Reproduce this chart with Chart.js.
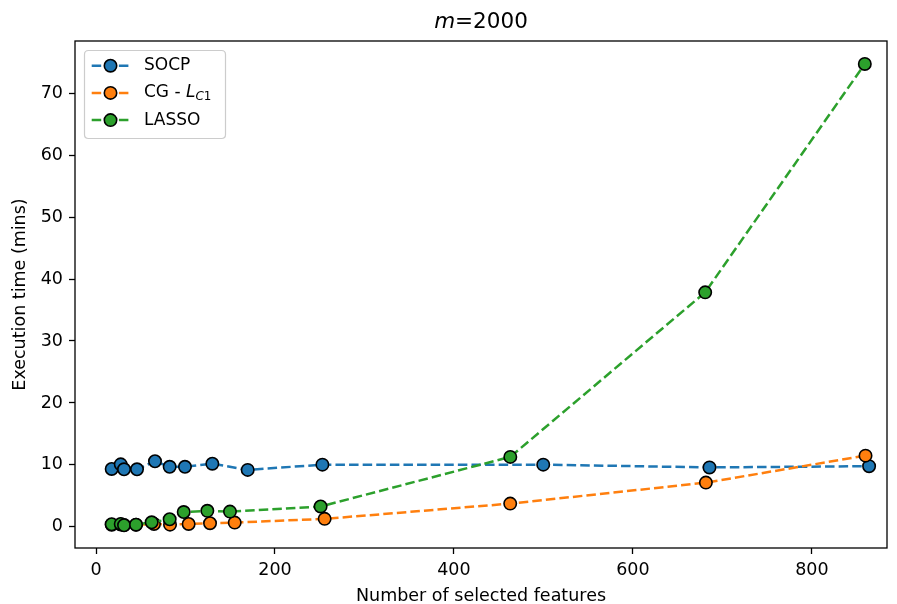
<!DOCTYPE html>
<html>
<head>
<meta charset="utf-8">
<script src="https://cdn.jsdelivr.net/npm/chart.js@4/dist/chart.umd.min.js"></script>
<style>
  html, body { margin: 0; padding: 0; background: #fff; }
  canvas { display: block; }
</style>
</head>
<body>
<canvas id="c" width="897" height="604"></canvas>
<script>
// ---- data ----
const socpX  = [17.5, 27.6, 31.3, 45.8, 65.9, 82.3, 99.4, 130, 169.5, 253, 499.8, 685.6, 864];
const socpY  = [9.35, 10.1, 9.3, 9.3, 10.6, 9.7, 9.7, 10.2, 9.2, 10.05, 10.05, 9.6, 9.8];
const cgX    = [17.5, 27.6, 31.3, 44.7, 64.8, 82.7, 103.5, 127.4, 155, 255.5, 462.9, 681.6, 860];
const cgY    = [0.35, 0.4, 0.3, 0.35, 0.48, 0.37, 0.48, 0.6, 0.7, 1.3, 3.76, 7.15, 11.5];
const lassoX = [17.5, 27.6, 31.3, 44.7, 62.2, 82.3, 98, 124.4, 149.7, 251, 463, 680.8, 859.2];
const lassoY = [0.43, 0.48, 0.27, 0.37, 0.75, 1.24, 2.4, 2.6, 2.47, 3.3, 11.3, 37.85, 74.7];
const seriesNames = ["SOCP", "CG - L_C1", "LASSO"];
const xTicks = [0, 200, 400, 600, 800];
const yTicks = [0, 10, 20, 30, 40, 50, 60, 70];
const titleText = "m=2000";
const xLabel = "Number of selected features";
const yLabel = "Execution time (mins)";

const colors = ["#1f77b4", "#ff7f0e", "#2ca02c"];
const FONT = "DejaVu Sans";
const FS = 17.5;
const DASH = [9.5, 4.1];
const LW = 2.5;
const PR = 6.2;

function pts(xs, ys) { return xs.map((x, i) => ({ x: x, y: ys[i] })); }

function ds(i, xs, ys, order) {
  return {
    label: seriesNames[i],
    data: pts(xs, ys),
    borderColor: colors[i],
    backgroundColor: colors[i],
    borderWidth: LW,
    borderDash: DASH,
    pointRadius: PR,
    pointHoverRadius: PR,
    pointBorderWidth: 1.6,
    pointBorderColor: "#000",
    pointBackgroundColor: colors[i],
    tension: 0,
    fill: false,
    order: order
  };
}

const framePlugin = {
  id: "frame",
  afterDatasetsDraw(chart) {
    const { ctx, chartArea: a } = chart;
    ctx.save();
    ctx.strokeStyle = "#000";
    ctx.lineWidth = 1.3;
    ctx.strokeRect(a.left, a.top, a.right - a.left, a.bottom - a.top);
    ctx.restore();
  }
};

const titlePlugin = {
  id: "mtitle",
  afterDraw(chart) {
    const { ctx, chartArea: a } = chart;
    ctx.save();
    ctx.fillStyle = "#000";
    ctx.textBaseline = "middle";
    const size = 21.5;
    const italic = "italic " + size + "px '" + FONT + "'";
    const normal = size + "px '" + FONT + "'";
    const p1 = titleText.slice(0, 1), p2 = titleText.slice(1);
    ctx.font = italic; const w1 = ctx.measureText(p1).width;
    ctx.font = normal; const w2 = ctx.measureText(p2).width;
    const cx = (a.left + a.right) / 2;
    let x = cx - (w1 + w2) / 2;
    const y = 22;
    ctx.font = italic; ctx.textAlign = "left"; ctx.fillText(p1, x, y);
    ctx.font = normal; ctx.fillText(p2, x + w1, y);
    ctx.restore();
  }
};

const legendPlugin = {
  id: "mlegend",
  afterDraw(chart) {
    const { ctx } = chart;
    ctx.save();
    const bx = 84.5, by = 50.5, bw = 141, bh = 88, r = 4;
    ctx.beginPath();
    ctx.moveTo(bx + r, by);
    ctx.lineTo(bx + bw - r, by);
    ctx.quadraticCurveTo(bx + bw, by, bx + bw, by + r);
    ctx.lineTo(bx + bw, by + bh - r);
    ctx.quadraticCurveTo(bx + bw, by + bh, bx + bw - r, by + bh);
    ctx.lineTo(bx + r, by + bh);
    ctx.quadraticCurveTo(bx, by + bh, bx, by + bh - r);
    ctx.lineTo(bx, by + r);
    ctx.quadraticCurveTo(bx, by, bx + r, by);
    ctx.closePath();
    ctx.fillStyle = "rgba(255,255,255,0.8)";
    ctx.fill();
    ctx.strokeStyle = "#cccccc";
    ctx.lineWidth = 1.2;
    ctx.stroke();

    chart.data.datasets.forEach((d, i) => {
      const y = 65.7 + i * 27.2;
      ctx.setLineDash(DASH);
      ctx.strokeStyle = d.borderColor;
      ctx.lineWidth = LW;
      ctx.beginPath();
      ctx.moveTo(91.7, y);
      ctx.lineTo(129.3, y);
      ctx.stroke();
      ctx.setLineDash([]);
      ctx.beginPath();
      ctx.arc(110.5, y, PR, 0, Math.PI * 2);
      ctx.fillStyle = d.borderColor;
      ctx.fill();
      ctx.lineWidth = 1.6;
      ctx.strokeStyle = "#000";
      ctx.stroke();

      ctx.fillStyle = "#000";
      ctx.textBaseline = "middle";
      ctx.textAlign = "left";
      const tx = 144;
      const lbl = d.label;
      const fs = 17;
      if (lbl.indexOf("_") >= 0) {
        const [pre, sub] = lbl.split("_");
        const head = pre.slice(0, pre.length - 1);
        const sym = pre.slice(pre.length - 1);
        ctx.font = fs + "px '" + FONT + "'";
        ctx.fillText(head, tx, y);
        let x = tx + ctx.measureText(head).width;
        ctx.font = "italic " + fs + "px '" + FONT + "'";
        ctx.fillText(sym, x, y);
        x += ctx.measureText(sym).width;
        const subSize = fs * 0.7;
        ctx.font = "italic " + subSize + "px '" + FONT + "'";
        ctx.fillText(sub.slice(0, 1), x, y + 4);
        x += ctx.measureText(sub.slice(0, 1)).width;
        ctx.font = subSize + "px '" + FONT + "'";
        ctx.fillText(sub.slice(1), x, y + 4);
      } else {
        ctx.font = fs + "px '" + FONT + "'";
        ctx.fillText(lbl, tx, y);
      }
    });
    ctx.restore();
  }
};

const tickFont = { family: FONT, size: FS };

new Chart(document.getElementById("c"), {
  type: "line",
  data: {
    datasets: [
      ds(0, socpX, socpY, 3),
      ds(1, cgX, cgY, 2),
      ds(2, lassoX, lassoY, 1)
    ]
  },
  options: {
    responsive: false,
    animation: false,
    events: [],
    layout: { padding: { top: 41, right: 10, left: 0, bottom: 0 } },
    plugins: {
      legend: { display: false },
      tooltip: { enabled: false },
      title: { display: false }
    },
    scales: {
      x: {
        type: "linear",
        min: -23.5,
        max: 884,
        afterBuildTicks: s => { s.ticks = xTicks.map(v => ({ value: v })); },
        afterFit: s => { s.height = 56; },
        ticks: { font: tickFont, color: "#000", padding: 6, maxRotation: 0, autoSkip: false },
        grid: { display: true, drawOnChartArea: false, drawTicks: true, tickLength: 6, tickColor: "#000", tickWidth: 1.3 },
        border: { display: false },
        title: { display: true, text: xLabel, font: tickFont, color: "#000", padding: { top: 2, bottom: -2.5 } }
      },
      y: {
        type: "linear",
        min: -3.4,
        max: 78.4,
        afterBuildTicks: s => { s.ticks = yTicks.map(v => ({ value: v })); },
        afterFit: s => { s.width = 75; },
        ticks: { font: tickFont, color: "#000", padding: 6, autoSkip: false },
        grid: { display: true, drawOnChartArea: false, drawTicks: true, tickLength: 6, tickColor: "#000", tickWidth: 1.3 },
        border: { display: false },
        title: { display: true, text: yLabel, font: tickFont, color: "#000", padding: { top: 10, bottom: 0 } }
      }
    }
  },
  plugins: [framePlugin, titlePlugin, legendPlugin]
});
</script>
</body>
</html>
